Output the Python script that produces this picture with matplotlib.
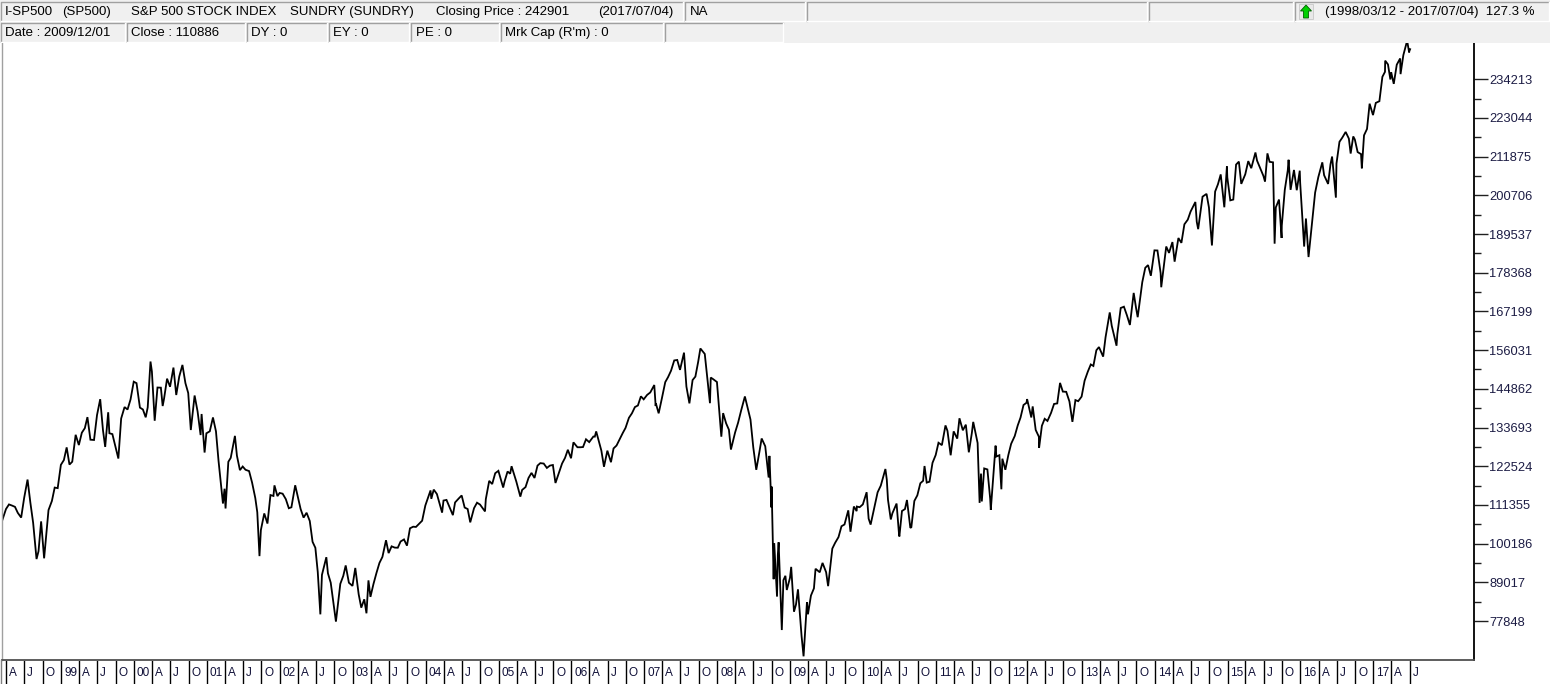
import numpy as np
import pandas as pd
import matplotlib
matplotlib.use("Agg")
import matplotlib.pyplot as plt
import matplotlib.dates as mdates
from matplotlib import font_manager
from matplotlib.patches import Rectangle, Polygon

# ---------------
# Chart data (S&P 500 close x 100)
# ---------------
obs_dates = [
    "1998-03-12", "1998-03-31", "1998-04-15", "1998-04-30", "1998-05-15", "1998-05-29", "1998-06-15", "1998-06-30",
    "1998-07-17", "1998-07-31", "1998-08-14", "1998-08-31", "1998-09-10", "1998-09-23", "1998-09-30", "1998-10-08",
    "1998-10-30", "1998-11-16", "1998-11-30", "1998-12-15", "1998-12-31",
    "1999-01-15", "1999-01-29", "1999-02-12", "1999-02-26", "1999-03-15", "1999-03-31", "1999-04-15", "1999-04-30",
    "1999-05-13", "1999-05-28", "1999-06-15", "1999-06-30", "1999-07-16", "1999-07-30", "1999-08-10", "1999-08-25",
    "1999-08-31", "1999-09-15", "1999-09-30", "1999-10-15", "1999-10-29", "1999-11-15", "1999-11-30", "1999-12-15",
    "1999-12-31",
    "2000-01-14", "2000-01-31", "2000-02-15", "2000-02-29", "2000-03-10", "2000-03-24", "2000-03-31", "2000-04-14",
    "2000-04-28", "2000-05-15", "2000-05-24", "2000-05-31", "2000-06-15", "2000-06-30", "2000-07-17", "2000-07-31",
    "2000-08-15", "2000-08-31", "2000-09-15", "2000-09-29", "2000-10-12", "2000-10-31", "2000-11-15", "2000-11-30",
    "2000-12-05", "2000-12-20", "2000-12-29",
    "2001-01-15", "2001-01-31", "2001-02-15", "2001-02-28", "2001-03-22", "2001-03-30", "2001-04-04", "2001-04-18",
    "2001-04-30", "2001-05-21", "2001-05-31", "2001-06-15", "2001-06-29", "2001-07-13", "2001-07-31", "2001-08-15",
    "2001-08-31", "2001-09-10", "2001-09-21", "2001-09-28", "2001-10-15", "2001-10-31", "2001-11-15", "2001-11-30",
    "2001-12-05", "2001-12-20", "2001-12-31",
    "2002-01-15", "2002-01-31", "2002-02-15", "2002-02-28", "2002-03-19", "2002-03-28", "2002-04-15", "2002-04-30",
    "2002-05-15", "2002-05-31", "2002-06-14", "2002-06-28", "2002-07-10", "2002-07-23", "2002-07-31", "2002-08-22",
    "2002-08-30", "2002-09-13", "2002-09-30", "2002-10-09", "2002-10-31", "2002-11-15", "2002-11-27", "2002-12-13",
    "2002-12-31",
    "2003-01-14", "2003-01-31", "2003-02-13", "2003-02-28", "2003-03-11", "2003-03-21", "2003-03-31", "2003-04-15",
    "2003-04-30", "2003-05-15", "2003-05-30", "2003-06-17", "2003-06-30", "2003-07-15", "2003-07-31", "2003-08-15",
    "2003-08-29", "2003-09-15", "2003-09-30", "2003-10-15", "2003-10-31", "2003-11-14", "2003-11-28", "2003-12-15",
    "2003-12-31",
    "2004-01-26", "2004-01-30", "2004-02-11", "2004-02-27", "2004-03-24", "2004-03-31", "2004-04-15", "2004-04-30",
    "2004-05-17", "2004-05-28", "2004-06-15", "2004-06-30", "2004-07-15", "2004-07-30", "2004-08-12", "2004-08-31",
    "2004-09-15", "2004-09-30", "2004-10-25", "2004-10-29", "2004-11-15", "2004-11-30", "2004-12-15", "2004-12-31",
    "2005-01-24", "2005-01-31", "2005-02-15", "2005-02-28", "2005-03-07", "2005-03-31", "2005-04-20", "2005-04-29",
    "2005-05-16", "2005-05-31", "2005-06-15", "2005-06-30", "2005-07-15", "2005-07-29", "2005-08-15", "2005-08-31",
    "2005-09-15", "2005-09-30", "2005-10-13", "2005-10-31", "2005-11-15", "2005-11-30", "2005-12-14", "2005-12-30",
    "2006-01-11", "2006-01-31", "2006-02-15", "2006-02-28", "2006-03-15", "2006-03-31", "2006-04-21", "2006-04-28",
    "2006-05-05", "2006-05-31", "2006-06-13", "2006-06-30", "2006-07-18", "2006-07-31", "2006-08-15", "2006-08-31",
    "2006-09-15", "2006-09-29", "2006-10-16", "2006-10-31", "2006-11-15", "2006-11-30", "2006-12-15", "2006-12-29",
    "2007-01-15", "2007-01-31", "2007-02-20", "2007-02-27", "2007-02-28", "2007-03-14", "2007-03-30", "2007-04-16",
    "2007-04-30", "2007-05-15", "2007-05-31", "2007-06-15", "2007-06-29", "2007-07-19", "2007-07-31", "2007-08-15",
    "2007-08-31", "2007-09-14", "2007-09-28", "2007-10-09", "2007-10-31", "2007-11-26", "2007-11-30", "2007-12-11",
    "2007-12-31",
    "2008-01-22", "2008-01-31", "2008-02-15", "2008-02-29", "2008-03-10", "2008-03-31", "2008-04-15", "2008-04-30",
    "2008-05-19", "2008-05-30", "2008-06-16", "2008-06-30", "2008-07-15", "2008-07-31", "2008-08-11", "2008-08-29",
    "2008-09-15", "2008-09-19", "2008-09-29", "2008-09-30", "2008-10-10", "2008-10-13", "2008-10-27", "2008-10-31",
    "2008-11-04", "2008-11-20", "2008-11-28", "2008-12-08", "2008-12-15", "2008-12-31",
    "2009-01-06", "2009-01-20", "2009-01-30", "2009-02-09", "2009-02-27", "2009-03-09", "2009-03-26", "2009-03-31",
    "2009-04-15", "2009-04-30", "2009-05-08", "2009-05-29", "2009-06-12", "2009-06-30", "2009-07-10", "2009-07-31",
    "2009-08-14", "2009-08-31", "2009-09-15", "2009-09-30", "2009-10-19", "2009-10-30", "2009-11-16", "2009-11-30",
    "2009-12-01", "2009-12-15", "2009-12-31",
    "2010-01-19", "2010-01-29", "2010-02-08", "2010-02-26", "2010-03-15", "2010-03-31", "2010-04-23", "2010-04-30",
    "2010-05-06", "2010-05-20", "2010-05-28", "2010-06-18", "2010-06-30", "2010-07-02", "2010-07-15", "2010-07-30",
    "2010-08-09", "2010-08-26", "2010-08-31", "2010-09-15", "2010-09-30", "2010-10-15", "2010-10-29", "2010-11-05",
    "2010-11-16", "2010-11-30", "2010-12-15", "2010-12-31",
    "2011-01-14", "2011-01-31", "2011-02-18", "2011-02-28", "2011-03-16", "2011-03-31", "2011-04-18", "2011-04-29",
    "2011-05-16", "2011-05-31", "2011-06-15", "2011-06-30", "2011-07-07", "2011-07-29", "2011-08-08", "2011-08-15",
    "2011-08-19", "2011-08-31", "2011-09-16", "2011-09-30", "2011-10-03", "2011-10-27", "2011-10-31", "2011-11-15",
    "2011-11-25", "2011-11-30", "2011-12-15", "2011-12-30",
    "2012-01-13", "2012-01-31", "2012-02-15", "2012-02-29", "2012-03-15", "2012-03-30", "2012-04-02", "2012-04-23",
    "2012-04-30", "2012-05-15", "2012-05-31", "2012-06-01", "2012-06-15", "2012-06-29", "2012-07-13", "2012-07-31",
    "2012-08-15", "2012-08-31", "2012-09-14", "2012-09-28", "2012-10-15", "2012-10-31", "2012-11-15", "2012-11-30",
    "2012-12-14", "2012-12-31",
    "2013-01-15", "2013-01-31", "2013-02-15", "2013-02-28", "2013-03-15", "2013-03-28", "2013-04-18", "2013-04-30",
    "2013-05-21", "2013-05-31", "2013-06-24", "2013-06-28", "2013-07-15", "2013-07-31", "2013-08-15", "2013-08-30",
    "2013-09-18", "2013-09-30", "2013-10-08", "2013-10-31", "2013-11-15", "2013-11-29", "2013-12-13", "2013-12-31",
    "2014-01-15", "2014-01-31", "2014-02-03", "2014-02-28", "2014-03-14", "2014-03-31", "2014-04-11", "2014-04-30",
    "2014-05-15", "2014-05-30", "2014-06-16", "2014-06-30", "2014-07-24", "2014-07-31", "2014-08-07", "2014-08-29",
    "2014-09-18", "2014-09-30", "2014-10-15", "2014-10-31", "2014-11-14", "2014-11-28", "2014-12-16", "2014-12-29",
    "2014-12-31",
    "2015-01-15", "2015-01-30", "2015-02-13", "2015-02-27", "2015-03-11", "2015-03-31", "2015-04-15", "2015-04-30",
    "2015-05-21", "2015-05-29", "2015-06-15", "2015-06-30", "2015-07-08", "2015-07-20", "2015-07-31", "2015-08-17",
    "2015-08-25", "2015-08-31", "2015-09-16", "2015-09-29", "2015-09-30", "2015-10-15", "2015-10-30", "2015-11-03",
    "2015-11-13", "2015-11-30", "2015-12-14", "2015-12-29", "2015-12-31",
    "2016-01-20", "2016-01-29", "2016-02-11", "2016-02-29", "2016-03-15", "2016-03-31", "2016-04-20", "2016-04-29",
    "2016-05-19", "2016-05-31", "2016-06-08", "2016-06-27", "2016-06-30", "2016-07-15", "2016-07-29", "2016-08-15",
    "2016-08-31", "2016-09-09", "2016-09-22", "2016-09-30", "2016-10-14", "2016-10-31", "2016-11-04", "2016-11-15",
    "2016-11-30", "2016-12-13", "2016-12-30",
    "2017-01-13", "2017-01-31", "2017-02-15", "2017-02-28", "2017-03-01", "2017-03-15", "2017-03-27", "2017-03-31",
    "2017-04-13", "2017-04-28", "2017-05-15", "2017-05-17", "2017-05-31", "2017-06-19", "2017-06-29", "2017-06-30",
    "2017-07-04",
]

obs_close = [
    106863, 110175, 111500, 111175, 110800, 109082, 107700, 113384,
    118675, 112067, 106200, 95728, 98000, 106600, 101701, 95944,
    109867, 112500, 116363, 116200, 122923,
    124300, 127964, 123000, 123833, 131600, 128637, 132200, 133518,
    136700, 130184, 130100, 137271, 141878, 132872, 128100, 138100,
    132041, 131800, 128271, 124741, 136293, 139600, 138891, 141800,
    146925,
    146500, 139446, 138900, 136642, 139500, 152746, 149858, 135656,
    145243, 145200, 139900, 142060, 147800, 145460, 151000, 143083,
    148400, 151768, 146500, 143651, 132978, 142940, 138300, 131523,
    137600, 126474, 132028,
    132600, 136601, 132600, 123994, 111758, 116033, 110325, 123800,
    124946, 131283, 125582, 121400, 122438, 121500, 121123, 117800,
    113358, 109254, 96580, 104094, 108900, 105978, 114200, 113945,
    117000, 113900, 114808,
    114600, 113020, 110400, 110673, 117029, 114739, 110200, 107692,
    109100, 106714, 100700, 98982, 92000, 79770, 91162, 96270,
    91607, 88900, 81528, 77676, 88576, 90900, 93887, 88900,
    87982,
    93166, 85570, 81700, 84115, 80073, 89579, 84818, 88500,
    91692, 94600, 96359, 101166, 97450, 99400, 99031, 99000,
    100801, 101400, 99597, 104600, 105071, 105000, 105820, 106800,
    111192,
    115537, 113113, 115776, 114494, 109133, 112621, 112800, 110730,
    108410, 112068, 113200, 114084, 110600, 110172, 106323, 110424,
    112000, 111458, 109481, 113020, 118300, 117382, 120500, 121192,
    116375, 118127, 121000, 120360, 122531, 118059, 113750, 115685,
    116500, 119150, 120600, 119133, 122700, 123418, 123300, 122033,
    122700, 122881, 117684, 120701, 123300, 124948, 127274, 124829,
    129418, 128008, 128000, 128066, 130300, 129483, 131100, 131061,
    132576, 127009, 122369, 127020, 123686, 127666, 128500, 130382,
    132100, 133585, 136500, 137794, 139600, 140063, 142700, 141830,
    143100, 143824, 145968, 139904, 140682, 137795, 142086, 146800,
    148237, 150100, 153062, 153200, 150335, 155308, 145527, 140670,
    147399, 148400, 152675, 156515, 154938, 140722, 148114, 147700,
    146836,
    131050, 137855, 134900, 133063, 127337, 132270, 135100, 138559,
    142663, 140038, 136000, 128000, 121491, 126738, 130532, 128283,
    119270, 125508, 110639, 116636, 89922, 100335, 84892, 96875,
    100575, 75244, 89624, 90900, 86800, 90325,
    93470, 80522, 82588, 86989, 73509, 67653, 83286, 79787,
    85200, 87281, 92923, 91914, 94621, 91932, 87913, 98748,
    100400, 102062, 105200, 105708, 109791, 103619, 110900, 109563,
    110886, 110700, 111510,
    115023, 107387, 105674, 110449, 115000, 116943, 121728, 118669,
    112815, 107159, 108941, 111751, 103071, 102258, 109600, 110160,
    112779, 104722, 104933, 112500, 114120, 117600, 118326, 122585,
    117800, 118055, 123500, 125764,
    129300, 128612, 134301, 132722, 125688, 132583, 130500, 136361,
    132900, 134520, 126542, 132064, 135322, 129228, 111946, 120400,
    112353, 121889, 121600, 113142, 109923, 128459, 125330, 125700,
    115867, 124696, 121500, 125760,
    129000, 131241, 134300, 136568, 140200, 140847, 141904, 136600,
    139791, 133000, 131033, 127804, 134200, 136216, 135600, 137932,
    140500, 140658, 146577, 144067, 144000, 141216, 135333, 141618,
    141300, 142619,
    147200, 149811, 151900, 151468, 156000, 156919, 154161, 159757,
    166916, 163074, 157309, 160628, 168200, 168573, 166100, 163297,
    172552, 168155, 165545, 175654, 179800, 180581, 177500, 184836,
    184800, 178259, 174189, 185945, 184100, 187234, 181569, 188395,
    187000, 192357, 193700, 196023, 198798, 193067, 190957, 200337,
    201136, 197229, 186249, 201805, 203900, 206756, 197274, 209057,
    205890,
    199267, 199499, 209600, 210450, 204024, 206789, 210600, 208551,
    213082, 210739, 208400, 206311, 204668, 212828, 210384, 210244,
    186761, 197218, 199500, 188409, 192003, 202300, 207936, 210979,
    202304, 208041, 202194, 207836, 204394,
    185933, 194024, 182908, 193223, 201500, 205974, 210240, 206530,
    204004, 209695, 211912, 200054, 209886, 216174, 217360, 219015,
    217095, 212781, 217718, 216827, 213200, 212615, 208518, 218039,
    219881, 227172, 223883,
    227400, 227887, 234925, 236364, 239596, 238500, 234159, 236272,
    232895, 238420, 240232, 235703, 241180, 245346, 241970, 242341,
    242901,
]

# right axis labels
y_ticks = [77848, 89017, 100186, 111355, 122524, 133693, 144862, 156031,
           167199, 178368, 189537, 200706, 211875, 223044, 234213]

header_row1 = [("I-SP500", 5), ("(SP500)", 62), ("S&P 500 STOCK INDEX", 131),
               ("SUNDRY (SUNDRY)", 290), ("Closing Price : 242901", 436),
               ("(2017/07/04)", 598), ("NA", 690)]
header_row2 = [("Date : 2009/12/01", 5), ("Close : 110886", 131), ("DY : 0", 251),
               ("EY : 0", 333), ("PE : 0", 416), ("Mrk Cap (R'm) : 0", 505)]
period_text = "(1998/03/12 - 2017/07/04)  127.3 %"

# ---------------
# fonts
# ---------------
names = {f.name for f in font_manager.fontManager.ttflist}
head_font = "Liberation Sans Narrow" if "Liberation Sans Narrow" in names else "Liberation Sans"
plt.rcParams['font.family'] = ['Liberation Sans', 'DejaVu Sans']

W, H = 1550, 684
fig = plt.figure(figsize=(W / 100, H / 100), dpi=100, facecolor='white')

# ---------------
# main price panel
# ---------------
px_left, px_right, px_top, px_bottom = 2, 1474, 43, 660
ax = fig.add_axes([px_left / W, (H - px_bottom) / H, (px_right - px_left) / W, (px_bottom - px_top) / H])
x = pd.to_datetime(obs_dates)
ax.plot(x, obs_close, color='black', lw=1.3, solid_joinstyle='miter')

ax.set_xlim(mdates.date2num(pd.Timestamp("1998-03-11")), mdates.date2num(pd.Timestamp("2018-05-20")))
ax.set_ylim(66593, 244689)

ax.yaxis.tick_right()
ax.set_yticks(y_ticks)
ax.set_yticklabels([str(v) for v in y_ticks])
ax.set_yticks([v + 11169 / 2 for v in y_ticks[:-1]], minor=True)
ax.tick_params(axis='y', which='major', direction='out', length=10, width=1, pad=1,
               labelsize=9.3, labelcolor='#1c1c44', color='#202020')
ax.tick_params(axis='y', which='minor', direction='out', length=5, width=1, color='#202020')
ax.set_xticks([])
ax.spines['top'].set_visible(False)
ax.spines['right'].set_color('black')
ax.spines['right'].set_linewidth(1.3)
ax.spines['bottom'].set_color('#505050')
ax.spines['bottom'].set_linewidth(1.3)
ax.spines['left'].set_color('#a0a0a0')
ax.spines['left'].set_linewidth(1.0)

# ---------------
# quarter strip under the chart
# ---------------
axs = fig.add_axes([px_left / W, 0, (px_right - px_left) / W, (H - px_bottom - 1) / H], sharex=ax)
axs.set_ylim(0, 1)
axs.axis('off')
quarters = pd.date_range("1998-04-01", "2017-07-01", freq="QS")
for q in quarters:
    lab = {1: f"{q.year % 100:02d}", 4: "A", 7: "J", 10: "O"}[q.month]
    axs.axvline(q, color='black', lw=1.0)
    axs.annotate(lab, (mdates.date2num(q), 0.5), xytext=(3, 0), textcoords='offset pixels',
                 ha='left', va='center', fontsize=8.5, color='#101038')
fig.add_artist(plt.Line2D([1 / W, 1 / W], [0, (H - px_bottom) / H], color='#808080', lw=1.0))

# ---------------
# header bar
# ---------------
hx = fig.add_axes([0, (H - px_top) / H, 1, px_top / H])
hx.set_xlim(0, W)
hx.set_ylim(px_top, 0)
hx.axis('off')
hx.add_patch(Rectangle((0, 0), W, px_top, color='#f0f0f0', lw=0))


def box(x0, x1, y0, y1):
    hx.add_patch(Rectangle((x0, y0), x1 - x0, y1 - y0, facecolor='#f0f0f0', lw=0))
    hx.plot([x0, x0, x1], [y1, y0, y0], color='#a0a0a0', lw=1.0)
    hx.plot([x0, x1, x1], [y1, y1, y0], color='white', lw=1.0)


for x0, x1 in [(1, 683), (685, 805), (807, 1147), (1149, 1293), (1295, 1549)]:
    box(x0, x1, 2, 21)
for x0, x1 in [(1, 125), (127, 245), (247, 327), (329, 409), (411, 499), (501, 663), (665, 783)]:
    box(x0, x1, 23, 42)

for txt, xp in header_row1:
    hx.text(xp, 12, txt, ha='left', va='center', fontsize=9.5, family=head_font, color='black')
for txt, xp in header_row2:
    hx.text(xp, 33, txt, ha='left', va='center', fontsize=9.5, family=head_font, color='black')
hx.text(1325, 12, period_text, ha='left', va='center', fontsize=9.5, family=head_font, color='black')

# green up arrow icon
hx.add_patch(Rectangle((1299, 4), 14, 15, facecolor='#e8e8e8', edgecolor='#c8c8c8', lw=0.6))
hx.add_patch(Polygon([(1306, 5), (1311.5, 11), (1308.5, 11), (1308.5, 18), (1303.5, 18),
                      (1303.5, 11), (1300.5, 11)], closed=True, facecolor='#00d000',
                     edgecolor='#006000', lw=0.6))

fig.savefig("out.png", dpi=100, facecolor='white')
